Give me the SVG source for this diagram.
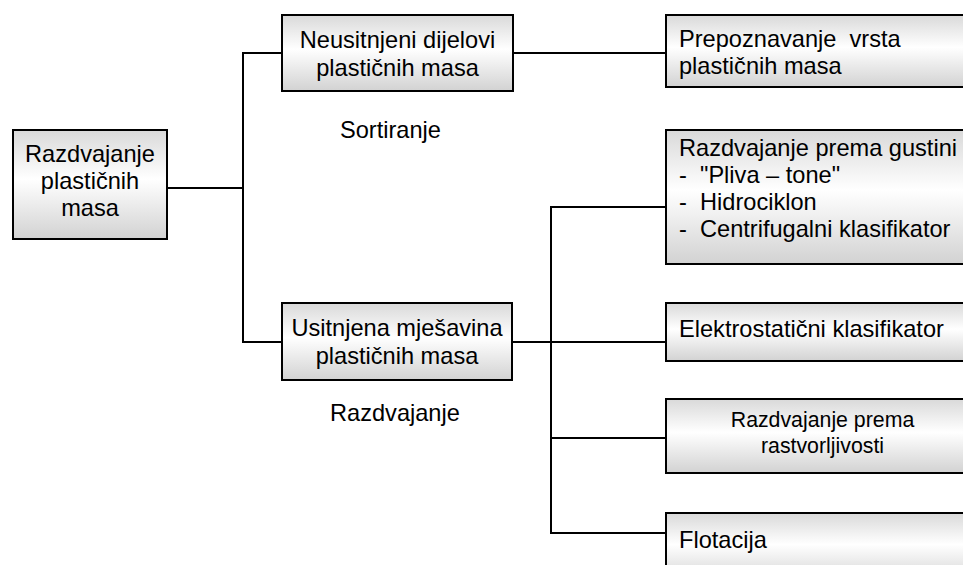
<svg xmlns="http://www.w3.org/2000/svg" width="963" height="565" viewBox="0 0 963 565">
<defs>
<linearGradient id="g" x1="0" y1="0" x2="0" y2="1">
<stop offset="0" stop-color="#d9d9d9"/>
<stop offset="0.45" stop-color="#ffffff"/>
<stop offset="1" stop-color="#d2d2d2"/>
</linearGradient>
<style>
.box{fill:url(#g);stroke:#000;stroke-width:2}
.ln{fill:none;stroke:#000;stroke-width:2}
text{font-family:"Liberation Sans",Arial,sans-serif;font-size:23.6px;fill:#000}
.c{text-anchor:middle}
.s{font-size:21.3px}
</style>
</defs>
<rect width="963" height="565" fill="#fff"/>
<g id="connectors">
<polyline class="ln" points="167,188 243,188"/>
<polyline class="ln" points="282,53 243,53 243,342 282,342"/>
<polyline class="ln" points="513,53 666,53"/>
<polyline class="ln" points="513,342 666,342"/>
<polyline class="ln" points="666,207 551,207 551,533 666,533"/>
<polyline class="ln" points="551,438 666,438"/>
</g>
<g id="root">
<rect class="box" x="13" y="130" width="154" height="109"/>
<text class="c" x="90" y="162">Razdvajanje</text>
<text class="c" x="90" y="189">plastičnih</text>
<text class="c" x="90" y="216">masa</text>
</g>
<g id="neusitnjeni">
<rect class="box" x="282" y="15" width="231" height="76"/>
<text class="c" x="397.5" y="48">Neusitnjeni dijelovi</text>
<text class="c" x="397.5" y="76">plastičnih masa</text>
</g>
<g id="sortiranje">
<text x="340" y="138">Sortiranje</text>
</g>
<g id="usitnjena">
<rect class="box" x="282" y="303" width="230" height="77"/>
<text class="c" x="397" y="336">Usitnjena mješavina</text>
<text class="c" x="397" y="364">plastičnih masa</text>
</g>
<g id="razdvajanje-label">
<text x="330" y="421">Razdvajanje</text>
</g>
<g id="prepoznavanje">
<rect class="box" x="666" y="15" width="320" height="72"/>
<text x="679" y="47" xml:space="preserve">Prepoznavanje  vrsta</text>
<text x="679" y="74">plastičnih masa</text>
</g>
<g id="gustina">
<rect class="box" x="666" y="130" width="320" height="134"/>
<text x="679" y="156">Razdvajanje prema gustini</text>
<text x="679" y="183">-</text><text x="700" y="183">"Pliva – tone"</text>
<text x="679" y="210">-</text><text x="700" y="210">Hidrociklon</text>
<text x="679" y="237">-</text><text x="700" y="237">Centrifugalni klasifikator</text>
</g>
<g id="elektrostaticni">
<rect class="box" x="666" y="303" width="320" height="58"/>
<text x="679" y="337">Elektrostatični klasifikator</text>
</g>
<g id="rastvorljivost">
<rect class="box" x="666" y="399" width="313" height="74"/>
<text class="c s" x="822.5" y="427">Razdvajanje prema</text>
<text class="c s" x="822.5" y="453">rastvorljivosti</text>
</g>
<g id="flotacija">
<rect class="box" x="666" y="513" width="320" height="70"/>
<text x="679" y="548">Flotacija</text>
</g>
</svg>
